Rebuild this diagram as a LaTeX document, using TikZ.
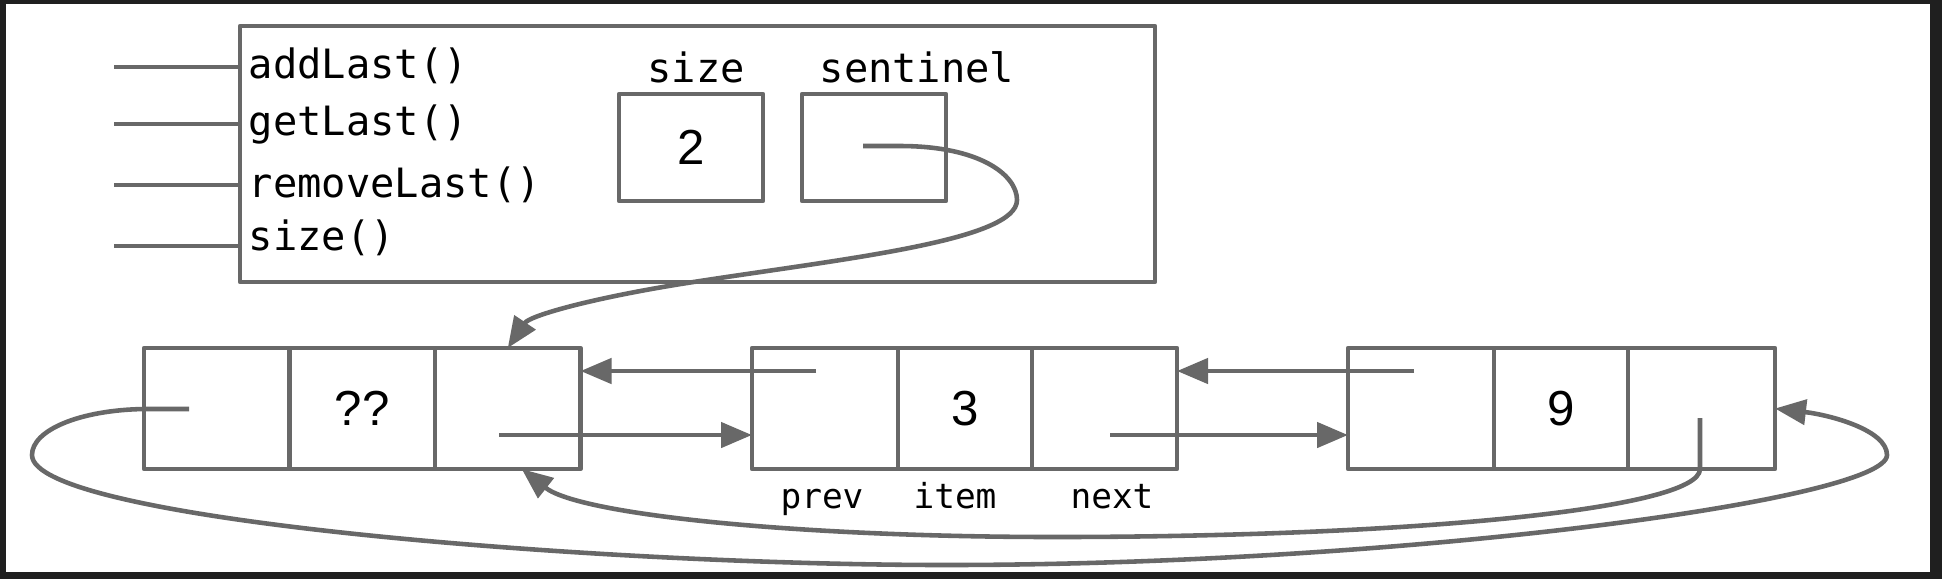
\documentclass[tikz,border=0pt]{standalone}
\usepackage{fontspec}
\setmonofont{DejaVu Sans Mono}
\setsansfont{Liberation Sans}
\usepackage{tikz}
\usetikzlibrary{arrows.meta}

\definecolor{linegray}{RGB}{104,104,104}
\definecolor{framebg}{RGB}{31,31,31}

\begin{document}
\begin{tikzpicture}[>={Triangle[length=0.31cm,width=0.25cm]}, line join=round,
  cell/.style={draw=linegray, line width=1.3pt, minimum height=1.21cm, inner sep=0pt, outer sep=0pt,
    font=\sffamily\fontsize{14}{16}\selectfont},
  ptr/.style={draw=linegray, line width=1.3pt},
  method/.style={anchor=base west, inner sep=0pt, font=\ttfamily\fontsize{11.5}{13}\selectfont},
  fieldlbl/.style={anchor=base, inner sep=0pt, font=\ttfamily\fontsize{9.8}{11}\selectfont}]
  % frame
  \fill[framebg] (0,0) rectangle (19.42,-5.79);
  \fill[white] (0.06,-0.04) rectangle (19.30,-5.72);
  % the deque object
  \node[draw=linegray, line width=1.3pt, minimum width=9.15cm, minimum height=2.56cm, inner sep=0pt] (deque) at (6.975,-1.54) {};
  \node[method] (addlast) at (2.48,-0.78) {addLast()};
  \node[method] (getlast) at (2.48,-1.35) {getLast()};
  \node[method] (removelast) at (2.48,-1.97) {removeLast()};
  \node[method] (sizefn) at (2.48,-2.50) {size()};
  \coordinate (m1) at (1.14,-0.67);
  \coordinate (m2) at (1.14,-1.24);
  \coordinate (m3) at (1.14,-1.85);
  \coordinate (m4) at (1.14,-2.46);
  \draw[ptr] (m1) -- (m1 -| deque.west);
  \draw[ptr] (m2) -- (m2 -| deque.west);
  \draw[ptr] (m3) -- (m3 -| deque.west);
  \draw[ptr] (m4) -- (m4 -| deque.west);
  \node[method, anchor=base] (sizelbl) at (6.96,-0.82) {size};
  \node[method, anchor=base] (sentlbl) at (9.17,-0.82) {sentinel};
  \node[cell, minimum width=1.44cm, minimum height=1.07cm] (sizebox) at (6.91,-1.475) {2};
  \node[cell, minimum width=1.44cm, minimum height=1.07cm] (sentbox) at (8.74,-1.475) {};
  % sentinel node
  \node[cell, minimum width=1.455cm] (s0p) at (2.1675,-4.085) {};
  \node[cell, minimum width=1.455cm, anchor=west] (s0i) at (s0p.east) {??};
  \node[cell, minimum width=1.455cm, anchor=west] (s0n) at (s0i.east) {};
  % node holding 3
  \node[cell, minimum width=1.46cm] (n1p) at (8.25,-4.085) {};
  \node[cell, minimum width=1.34cm, anchor=west] (n1i) at (n1p.east) {3};
  \node[cell, minimum width=1.45cm, anchor=west] (n1n) at (n1i.east) {};
  % node holding 9
  \node[cell, minimum width=1.46cm] (n2p) at (14.21,-4.085) {};
  \node[cell, minimum width=1.34cm, anchor=west] (n2i) at (n2p.east) {9};
  \node[cell, minimum width=1.47cm, anchor=west] (n2n) at (n2i.east) {};
  \node[fieldlbl] (prevlbl) at (8.22,-5.08) {prev};
  \node[fieldlbl] (itemlbl) at (9.55,-5.08) {item};
  \node[fieldlbl] (nextlbl) at (11.12,-5.08) {next};
  % pointer origins
  \coordinate (sp) at (8.63,-1.46);
  \coordinate (s0px) at (1.89,-4.09);
  \coordinate (s0nx) at (4.99,-4.35);
  \coordinate (n1px) at (8.16,-3.71);
  \coordinate (n1nx) at (11.10,-4.35);
  \coordinate (n2px) at (14.14,-3.71);
  \coordinate (n2nx) at (17.00,-4.18);
  % pointers
  \draw[ptr,->] (sp) -- (9.00,-1.46) .. controls (9.80,-1.46) and (10.17,-1.75) .. (10.17,-2.00)
    .. controls (10.17,-2.40) and (8.50,-2.58) .. (7.00,-2.81)
    .. controls (6.00,-2.96) and (5.30,-3.15) .. (s0n.north);
  \draw[ptr,->] (s0nx) -- (s0nx -| n1p.west);
  \draw[ptr,->] (n1px) -- (n1px -| s0n.east);
  \draw[ptr,->] (n1nx) -- (n1nx -| n2p.west);
  \draw[ptr,->] (n2px) -- (n2px -| n1n.east);
  \draw[ptr,->] (s0px) -- (s0px -| s0p.west) .. controls (0.80,-4.10) and (0.32,-4.30) .. (0.32,-4.55)
    .. controls (0.32,-5.20) and (6.00,-5.65) .. (9.46,-5.65)
    .. controls (14.00,-5.65) and (18.87,-5.00) .. (18.87,-4.55)
    .. controls (18.87,-4.30) and (18.30,-4.15) .. (n2n.east);
  \draw[ptr,->] (n2nx) -- (n2nx |- n2n.south) .. controls (17.00,-5.10) and (14.00,-5.37) .. (10.55,-5.37)
    .. controls (8.00,-5.37) and (5.80,-5.15) .. ([xshift=0.14cm]s0n.south);
\end{tikzpicture}
\end{document}
